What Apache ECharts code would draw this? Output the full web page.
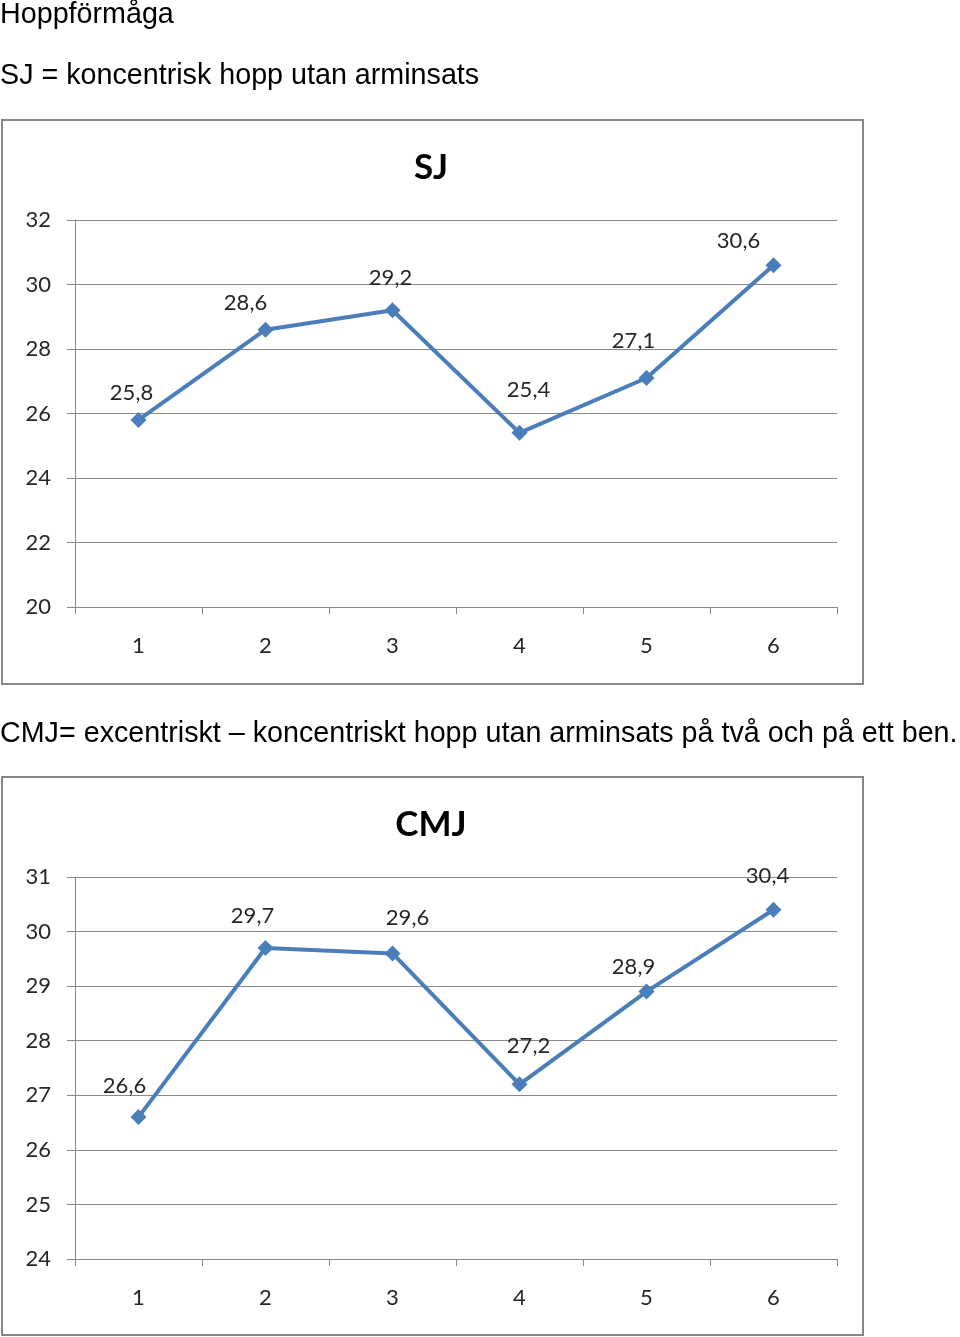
<!DOCTYPE html>
<html><head><meta charset="utf-8">
<script src="https://cdn.jsdelivr.net/npm/echarts@6/dist/echarts.min.js"></script>
<style>html,body{margin:0;padding:0;background:#fff}#c{width:960px;height:1337px}</style>
</head><body><div id="c"></div>
<script>
const pageTitle = 'Hoppförmåga';
const sjCaption = 'SJ = koncentrisk hopp utan arminsats';
const cmjCaption = 'CMJ= excentriskt – koncentriskt hopp utan arminsats på två och på ett ben.';
const categories = ['1', '2', '3', '4', '5', '6'];
const sjTitle = 'SJ';
const sjValues = [25.8, 28.6, 29.2, 25.4, 27.1, 30.6];
const cmjTitle = 'CMJ';
const cmjValues = [26.6, 29.7, 29.6, 27.2, 28.9, 30.4];
const sjLabelOffsets = [[-7,-28],[-20,-28],[-2,-33],[9,-44],[-13,-38],[-35,-25]];
const cmjLabelOffsets = [[-14,-32],[-13,-33],[15,-36],[9,-39],[-13,-26],[-6,-35]];

const LINE = '#4A7EBB';
const GRID = '#888888';
const TXT = '#262626';
const LF = 'Lato';
const HF = '28.7px "Liberation Sans"';

function xAx(gi) {
  return {
    type: 'category', gridIndex: gi, data: categories, boundaryGap: true,
    axisLine: {show: true, lineStyle: {color: GRID, width: 1}},
    axisTick: {show: true, length: 7, lineStyle: {color: GRID}},
    axisLabel: {color: TXT, fontFamily: LF, fontSize: 22, margin: 28},
    splitLine: {show: false}
  };
}
function yAx(gi, min, max, interval) {
  return {
    type: 'value', gridIndex: gi, min: min, max: max, interval: interval,
    axisLine: {show: true, lineStyle: {color: GRID, width: 1}},
    axisTick: {show: true, inside: false, length: 8, lineStyle: {color: GRID}},
    axisLabel: {color: TXT, fontFamily: LF, fontSize: 22, margin: 24},
    splitLine: {show: true, lineStyle: {color: GRID, width: 1}}
  };
}
function mkData(vals, offs) {
  return vals.map((v, i) => ({
    value: v,
    label: {offset: [offs[i][0], offs[i][1] + 1]}
  }));
}
function ser(gi, vals, offs) {
  return {
    type: 'line', xAxisIndex: gi, yAxisIndex: gi,
    data: mkData(vals, offs),
    symbol: 'diamond', symbolSize: 16,
    lineStyle: {color: LINE, width: 4},
    itemStyle: {color: LINE},
    label: {
      show: true, position: 'inside', align: 'center', verticalAlign: 'middle',
      color: TXT, fontFamily: LF, fontSize: 22,
      formatter: p => String(p.value).replace('.', ',')
    },
    emphasis: {disabled: true},
    animation: false
  };
}

const chart = echarts.init(document.getElementById('c'), null, {renderer: 'canvas'});
chart.setOption({
  animation: false,
  backgroundColor: '#fff',
  grid: [
    {left: 75, top: 220, width: 762, height: 387},
    {left: 75, top: 877, width: 762, height: 382}
  ],
  xAxis: [xAx(0), xAx(1)],
  yAxis: [yAx(0, 20, 32, 2), yAx(1, 24, 31, 1)],
  series: [ser(0, sjValues, sjLabelOffsets), ser(1, cmjValues, cmjLabelOffsets)],
  graphic: [
    {type: 'text', left: 0, top: 1, style: {text: pageTitle, font: HF, fill: '#000'}},
    {type: 'text', left: 0, top: 62, style: {text: sjCaption, font: HF, fill: '#000'}},
    {type: 'text', left: 0, top: 720, style: {text: cmjCaption, font: HF, fill: '#000'}},
    {type: 'rect', shape: {x: 2, y: 120, width: 861, height: 564}, style: {fill: 'none', stroke: '#878787', lineWidth: 2}, z: 10},
    {type: 'rect', shape: {x: 2, y: 777, width: 861, height: 558}, style: {fill: 'none', stroke: '#878787', lineWidth: 2}, z: 10},
    {type: 'text', x: 431, y: 168, style: {text: sjTitle, font: 'bold 35px Lato', fill: '#000', align: 'center', verticalAlign: 'middle'}},
    {type: 'text', x: 431, y: 825, style: {text: cmjTitle, font: 'bold 35px Lato', fill: '#000', align: 'center', verticalAlign: 'middle'}}
  ]
});
</script></body></html>
